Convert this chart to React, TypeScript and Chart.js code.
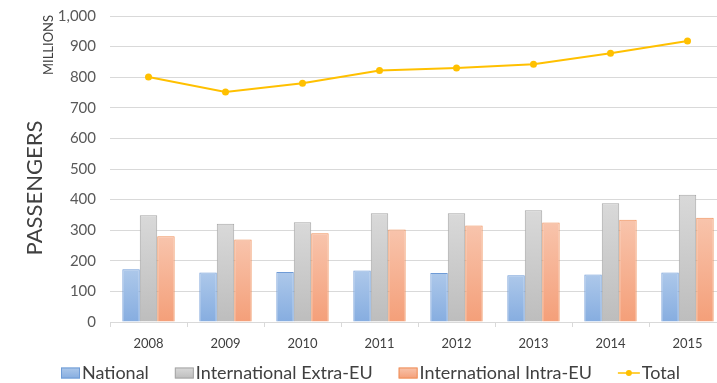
import React, { useEffect, useRef } from "react";
import { Chart, registerables } from "chart.js";

Chart.register(...registerables);

const years = ["2008", "2009", "2010", "2011", "2012", "2013", "2014", "2015"];
const national = [172, 162, 163, 168, 160, 153, 155, 162];
const extraEU = [349, 321, 326, 355, 355, 365, 388, 416];
const intraEU = [280, 270, 290, 302, 315, 325, 334, 341];
const total = [801, 752, 780, 822, 830, 842, 878, 918];
const yTicks = [0, 100, 200, 300, 400, 500, 600, 700, 800, 900, 1000];

const FONT = "Lato, 'Liberation Sans', sans-serif";

type Fill = { top: string; bottom: string; border: string };
const blue: Fill = { top: "#adc8ea", bottom: "#86ade0", border: "#6f9bd6" };
const gray: Fill = { top: "#d9d9d9", bottom: "#bdbdbd", border: "#a6a6a6" };
const orange: Fill = { top: "#f8c4ac", bottom: "#f49f79", border: "#f0905a" };
const lineColor = "#ffc000";

// Each bar gets its own vertical gradient, light at the top and darker at the base.
function barGradient(fill: Fill) {
  return (ctx: any) => {
    const chart = ctx.chart;
    const y = chart.scales && chart.scales.y;
    if (!chart.chartArea || !y || !ctx.parsed) return fill.bottom;
    const top = y.getPixelForValue(ctx.parsed.y);
    const base = y.getPixelForValue(0);
    if (!isFinite(top) || !isFinite(base) || top === base) return fill.bottom;
    const g = chart.ctx.createLinearGradient(0, top, 0, base);
    g.addColorStop(0, fill.top);
    g.addColorStop(1, fill.bottom);
    return g;
  };
}

// Axis titles drawn rotated at the left side.
const axisTitles = {
  id: "axisTitles",
  afterDraw(chart: any) {
    const c = chart.ctx;
    const draw = (text: string, x: number, y: number, size: number) => {
      c.save();
      c.fillStyle = "#404040";
      c.textAlign = "center";
      c.textBaseline = "middle";
      c.translate(x, y);
      c.rotate(-Math.PI / 2);
      c.font = `${size}px ${FONT}`;
      c.fillText(text, 0, 0);
      c.restore();
    };
    draw("PASSENGERS", 35, 188, 22);
    draw("MILLIONS", 49, 45, 13);
  },
};

// Legend row at the bottom: gradient boxes for the bars, a line with a dot for the total.
const bottomLegend = {
  id: "bottomLegend",
  afterDraw(chart: any) {
    const c = chart.ctx;
    const items = chart.data.datasets.map((ds: any) => ({ label: ds.label, fill: ds._fill }));
    c.save();
    c.font = `18px ${FONT}`;
    c.textBaseline = "middle";
    c.textAlign = "left";
    const boxW = 19;
    const boxH = 11;
    const markW = 22;
    const gapText = 2;
    const gapItem = 26;
    let x = 61;
    const yc = 373;
    items.forEach((it: any) => {
      if (it.fill) {
        const g = c.createLinearGradient(0, yc - boxH / 2, 0, yc + boxH / 2);
        g.addColorStop(0, it.fill.top);
        g.addColorStop(1, it.fill.bottom);
        c.fillStyle = g;
        c.fillRect(x, yc - boxH / 2, boxW, boxH);
        c.strokeStyle = it.fill.border;
        c.lineWidth = 1;
        c.strokeRect(x + 0.5, yc - boxH / 2 + 0.5, boxW - 1, boxH - 1);
        x += boxW + gapText;
      } else {
        c.strokeStyle = lineColor;
        c.lineWidth = 1.5;
        c.beginPath();
        c.moveTo(x, yc);
        c.lineTo(x + markW, yc);
        c.stroke();
        c.fillStyle = lineColor;
        c.beginPath();
        c.arc(x + markW / 2, yc, 3, 0, Math.PI * 2);
        c.fill();
        x += markW + gapText;
      }
      c.fillStyle = "#404040";
      c.fillText(it.label, x, yc);
      x += c.measureText(it.label).width + gapItem;
    });
    c.restore();
  },
};

export default function App() {
  const ref = useRef<HTMLCanvasElement>(null);

  useEffect(() => {
    if (!ref.current) return;
    const barDs = (label: string, data: number[], fill: Fill) => ({
      type: "bar" as const,
      label,
      data,
      _fill: fill,
      backgroundColor: barGradient(fill),
      borderColor: fill.border,
      borderWidth: 1,
      borderSkipped: "bottom" as const,
      barPercentage: 1,
      categoryPercentage: 0.68,
      order: 2,
    });
    const chart = new Chart(ref.current, {
      type: "bar",
      data: {
        labels: years,
        datasets: [
          barDs("National", national, blue),
          barDs("International Extra-EU", extraEU, gray),
          barDs("International Intra-EU", intraEU, orange),
          {
            type: "line" as const,
            label: "Total",
            data: total,
            borderColor: lineColor,
            backgroundColor: lineColor,
            borderWidth: 2,
            pointRadius: 3.5,
            pointBorderWidth: 0,
            tension: 0,
            order: 0,
          } as any,
        ],
      },
      options: {
        responsive: false,
        animation: false,
        events: [],
        layout: { padding: { top: 16, left: 0, right: 0, bottom: 0 } },
        plugins: { legend: { display: false }, tooltip: { enabled: false } },
        scales: {
          x: {
            afterFit: (s: any) => {
              s.height = 61;
            },
            grid: {
              offset: true,
              drawOnChartArea: false,
              drawTicks: true,
              tickLength: 5,
              color: "#d9d9d9",
            },
            border: { display: true, color: "#d9d9d9" },
            ticks: { color: "#404040", font: { family: FONT, size: 13 }, padding: 9 },
          },
          y: {
            min: 0,
            max: 1000,
            afterFit: (s: any) => {
              s.width = 110;
              s.paddingTop = 0;
              s.paddingBottom = 0;
            },
            afterBuildTicks: (s: any) => {
              s.ticks = yTicks.map((v) => ({ value: v }));
            },
            grid: { color: "#d9d9d9", drawTicks: false },
            border: { display: false },
            ticks: {
              color: "#595959",
              font: { family: FONT, size: 15 },
              padding: 14,
              callback: (v: any) => Number(v).toLocaleString("en-US"),
            },
          },
        },
      },
      plugins: [axisTitles, bottomLegend],
    });
    return () => chart.destroy();
  }, []);

  return (
    <div style={{ position: "fixed", left: 0, top: 0, width: 717, height: 383, overflow: "hidden", background: "#fff" }}>
      <canvas ref={ref} width={730} height={383} style={{ display: "block" }} />
    </div>
  );
}
